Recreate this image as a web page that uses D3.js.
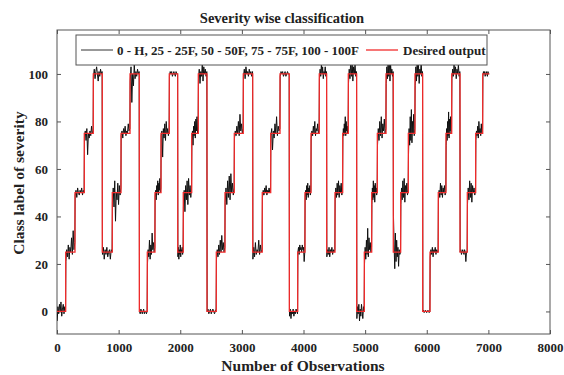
<!DOCTYPE html>
<html>
<head>
<meta charset="utf-8">
<script src="https://cdn.jsdelivr.net/npm/d3@7"></script>
<style>
  body { margin: 0; background: #fff; }
  svg text { font-family: "Liberation Serif", "Times New Roman", serif; font-weight: bold; fill: #222; }
</style>
</head>
<body>
<div id="chart"></div>
<script>
// segment boundaries (observation index) and the desired class level of each segment
const segEdges = [0,141,292,443,589,735,897,1039,1185,1336,1465,1590,1688,1822,1959,2049,2186,2293,2434,
  2585,2726,2877,3023,3176,3331,3468,3619,3770,3906,4024,4122,4256,4376,4511,4636,4727,4863,4987,
  5107,5198,5339,5457,5577,5701,5809,5934,6053,6187,6312,6405,6540,6658,6794,6908,7015];
const desiredLevels = [0,25,50,75,100, 25,50,75,100, 0,25,50,75,100, 25,50,75,100,
  0,25,50,75,100, 25,50,75,100, 0,25,50,75,100, 25,50,75,100,
  0,25,50,75,100, 25,50,75,100, 0,25,50,75,100, 25,50,75,100];

// predicted output (black trace), samples read per segment
const predicted = [
  [-4,2,-1,3,0,4,-2,1,3,-1,2,0],
  [21,26,23,28,22,27,25,31,24,34,26,29],
  [49,51,48,52,50,49,51,50,52,49,51,50],
  [74,76,72,77,66,75,73,76,74,78,75,76],
  [99,102,98,101,103,100,97,101,99,102,100,101],
  [24,27,22,26,24,27,23,25,26,22,26,25],
  [46,52,44,55,38,50,47,54,45,53,49,52],
  [74,76,73,77,75,78,74,76,75,79,76,77],
  [97,103,88,100,95,104,98,101,99,102,100,101],
  [0,-1,1,0,-1,0,1,-1,0,0,-1,0],
  [20,26,23,30,22,28,24,33,26,29,25,27],
  [48,51,47,53,50,55,49,54,51,56,50,52],
  [74,76,65,77,73,79,72,80,75,77,74,76],
  [99,101,100,101,99,100,101,100,99,101,100,100],
  [23,27,22,26,24,28,23,26,25,27,24,26],
  [44,51,42,53,47,55,45,56,49,53,48,52],
  [72,76,70,78,74,80,73,81,76,82,75,78],
  [98,102,96,101,99,104,97,103,100,102,99,101],
  [0,1,-1,0,1,-1,0,1,0,-1,0,1],
  [22,26,23,28,24,30,25,32,26,29,25,27],
  [46,52,45,55,48,57,47,58,50,54,49,52],
  [73,76,74,78,75,80,74,83,76,79,75,77],
  [99,102,98,103,100,101,99,102,100,101,99,101],
  [22,27,23,29,24,26,25,30,24,28,25,26],
  [48,51,49,52,50,53,49,51,50,52,50,51],
  [74,77,68,76,73,79,75,82,74,78,76,77],
  [99,101,100,101,99,100,101,99,100,101,100,100],
  [-2,1,-3,0,-1,1,-2,0,-1,1,0,-1],
  [25,27,24,28,26,27,25,28,26,27,21,25],
  [48,51,47,53,49,54,48,52,50,53,49,51],
  [73,76,74,78,75,80,74,77,76,79,75,77],
  [98,102,99,104,100,103,98,101,100,103,99,101],
  [23,26,24,27,23,26,25,27,24,26,25,26],
  [47,52,48,54,49,55,48,53,50,54,49,52],
  [73,77,74,79,75,82,74,80,76,78,75,77],
  [96,102,98,105,99,106,97,103,100,104,99,101],
  [-3,2,-1,3,-4,1,-2,3,0,-3,2,0],
  [20,27,22,30,24,35,23,31,26,29,25,27],
  [45,52,47,55,48,53,46,54,50,52,49,51],
  [70,77,72,80,74,82,73,79,76,81,75,77],
  [96,103,98,105,99,107,97,104,100,102,99,101],
  [40,28,18,33,21,30,23,27,19,26,24,25],
  [45,52,47,55,48,56,46,53,50,54,49,51],
  [66,77,70,82,72,85,71,80,75,83,74,77],
  [95,103,97,106,99,104,96,102,100,105,99,101],
  [0,0.5,-0.5,0,0.5,0,-0.5,0,0.5,0,-0.5,0],
  [23,26,24,27,23,26,25,27,24,26,25,25],
  [47,51,48,54,49,53,48,52,50,53,49,51],
  [70,77,72,80,74,84,73,81,76,82,75,77],
  [98,102,99,104,100,103,98,102,100,104,99,101],
  [25,26,24,25,26,25,24,26,25,21,25,25],
  [45,52,47,55,48,54,46,53,50,52,49,51],
  [72,76,74,78,73,80,75,77,74,79,75,77],
  [99,101,100,101,99,100,101,100,99,101,100,100]
];

const xTicks = [0,1000,2000,3000,4000,5000,6000,7000,8000];
const yTicks = [0,20,40,60,80,100];
const legendLabels = ["0 - H, 25 - 25F, 50 - 50F, 75 - 75F, 100 - 100F", "Desired output"];

const width = 564, height = 375;
const margin = {top: 30, right: 14, bottom: 41, left: 57};

const svg = d3.select("#chart").append("svg")
  .attr("width", width).attr("height", height);

const x = d3.scaleLinear().domain([0, 8000]).range([margin.left, width - margin.right]);
const y = d3.scaleLinear().domain([-9.5, 118.5]).range([height - margin.bottom, margin.top]);

const axisColor = "#555";
const redColor = "#f22c2c";

// axes with inward ticks, box style
const gx = svg.append("g").attr("transform", "translate(0," + (height - margin.bottom) + ")")
  .call(d3.axisBottom(x).tickValues(xTicks).tickFormat(d3.format("d")).tickSizeInner(-4).tickSizeOuter(0).tickPadding(9));
const gxTop = svg.append("g").attr("transform", "translate(0," + margin.top + ")")
  .call(d3.axisTop(x).tickValues(xTicks).tickSizeInner(-4).tickSizeOuter(0).tickFormat(""));
const gy = svg.append("g").attr("transform", "translate(" + margin.left + ",0)")
  .call(d3.axisLeft(y).tickValues(yTicks).tickFormat(d3.format("d")).tickSizeInner(-4).tickSizeOuter(0).tickPadding(9));
const gyRight = svg.append("g").attr("transform", "translate(" + (width - margin.right) + ",0)")
  .call(d3.axisRight(y).tickValues(yTicks).tickSizeInner(-4).tickSizeOuter(0).tickFormat(""));

[gx, gxTop, gy, gyRight].forEach(g => {
  g.select(".domain").remove();
  g.selectAll(".tick line").attr("stroke", axisColor);
  g.selectAll("text").style("font-size", "13px").attr("fill", "#222");
});

svg.append("rect")
  .attr("x", x(0)).attr("y", y(118.5))
  .attr("width", x(8000) - x(0)).attr("height", y(-9.5) - y(118.5))
  .attr("fill", "none").attr("stroke", axisColor).attr("stroke-width", 1);

// clip to plot area
svg.append("clipPath").attr("id", "plotClip").append("rect")
  .attr("x", x(0)).attr("y", y(118.5))
  .attr("width", x(8000) - x(0)).attr("height", y(-9.5) - y(118.5));

// predicted points: spread samples of each segment across its span
const predPoints = [];
predicted.forEach((vals, i) => {
  const s = d3.scaleLinear().domain([0, vals.length - 1]).range([segEdges[i] + 3, segEdges[i + 1] - 3]);
  vals.forEach((v, j) => predPoints.push([s(j), v]));
});

const line = d3.line().x(d => x(d[0])).y(d => y(d[1]));

const plot = svg.append("g").attr("clip-path", "url(#plotClip)");

plot.append("path")
  .datum(predPoints)
  .attr("d", line)
  .attr("fill", "none")
  .attr("stroke", "#111")
  .attr("stroke-width", 1);

const desiredPoints = desiredLevels.map((lv, i) => [segEdges[i], lv]);
desiredPoints.push([segEdges[segEdges.length - 1], desiredLevels[desiredLevels.length - 1]]);

plot.append("path")
  .datum(desiredPoints)
  .attr("d", line.curve(d3.curveStepAfter))
  .attr("fill", "none")
  .attr("stroke", redColor)
  .attr("stroke-width", 1.3);

// title and axis labels
svg.append("text").attr("x", 282).attr("y", 23).attr("text-anchor", "middle")
  .style("font-size", "14.5px").text("Severity wise classification");
svg.append("text").attr("x", 303).attr("y", 371).attr("text-anchor", "middle")
  .style("font-size", "15.5px").text("Number of Observations");
svg.append("text").attr("transform", "translate(24,183) rotate(-90)").attr("text-anchor", "middle")
  .style("font-size", "15.5px").text("Class label of severity");

// legend
const lg = svg.append("g");
lg.append("rect").attr("x", 76).attr("y", 35).attr("width", 411).attr("height", 30)
  .attr("fill", "#fff").attr("stroke", axisColor).attr("stroke-width", 1);
lg.append("line").attr("x1", 81).attr("x2", 113).attr("y1", 50).attr("y2", 50)
  .attr("stroke", "#333").attr("stroke-width", 1);
lg.append("text").attr("x", 117).attr("y", 54.5).style("font-size", "13px").text(legendLabels[0]);
lg.append("line").attr("x1", 366).attr("x2", 398).attr("y1", 50).attr("y2", 50)
  .attr("stroke", redColor).attr("stroke-width", 1.3);
lg.append("text").attr("x", 403).attr("y", 54.5).style("font-size", "13px").text(legendLabels[1]);
</script>
</body>
</html>
